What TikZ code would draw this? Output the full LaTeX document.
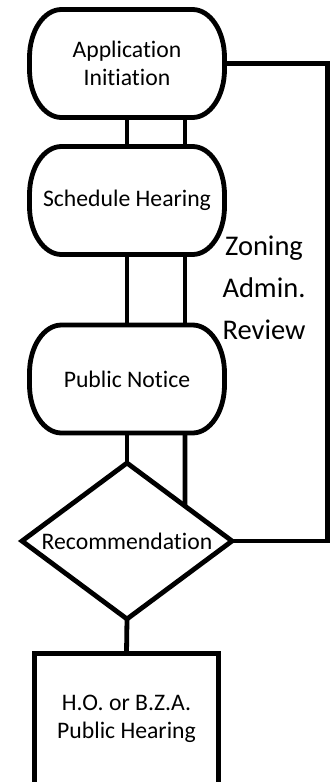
\documentclass[tikz,border=0pt]{standalone}
\usepackage{fontspec}
\setmainfont{Carlito}[Ligatures=NoCommon]
\usetikzlibrary{shapes.geometric,calc}

\begin{document}
\begin{tikzpicture}[x=1pt,y=-1pt,line width=4.8pt,
    flowtext/.style={font=\fontsize{23.7}{28.5}\selectfont,align=center},
    stage/.style={flowtext,minimum width=195pt,minimum height=108pt,inner sep=0pt,outer sep=0pt},
    decision/.style={flowtext,draw,shape=diamond,aspect=1.35,minimum width=210pt,minimum height=156pt,inner sep=0pt,outer sep=0pt},
    hearbox/.style={flowtext,draw,minimum width=184pt,minimum height=131pt,inner sep=0pt,outer sep=0pt}]
        \useasboundingbox (0,0) rectangle (333,782);
        %% stages
        \node[stage] (init) at (127,63.5) {Application\\Initiation};
        \node[stage] (sched) at (127,200.5) {Schedule Hearing};
        \node[stage] (notice) at (127,379) {Public Notice};
        \node[decision] (rec) at (127,541) {Recommendation};
        \node[hearbox] (hear) at (126.5,719) {H.O. or B.Z.A.\\Public Hearing};
        \node[font=\fontsize{28.5}{42}\selectfont,align=center] (zar) at (264,288) {Zoning\\Admin.\\Review};
        %% rounded outlines
        \foreach \n in {init,sched,notice} {
            \draw ([xshift=32pt]\n.north west) -- ([xshift=-32pt]\n.north east)
                arc[start angle=90,end angle=0,x radius=32pt,y radius=48pt] -- ([yshift=48pt]\n.south east)
                arc[start angle=0,end angle=-90,x radius=32pt,y radius=48pt] -- ([xshift=32pt]\n.south west)
                arc[start angle=-90,end angle=-180,x radius=32pt,y radius=48pt] -- ([yshift=-48pt]\n.north west)
                arc[start angle=180,end angle=90,x radius=32pt,y radius=48pt] -- cycle;
        }
        %% links
        \foreach \a/\b in {init/sched,sched/notice} {
            \foreach \dx in {0pt,58pt}
                \draw ([xshift=\dx]\a.south) -- ([xshift=\dx]\b.north);
        }
        \draw (notice.south) -- (rec.north);
        \draw ([xshift=58pt]notice.south) -- ($(rec.north)!0.552!(rec.east)$);
        \draw (rec.south) -- (hear.north);
        %% review loop
        \coordinate (back) at (327.5,63.5);
        \draw (init.east) -- (back) |- (rec.east);
    \end{tikzpicture}
\end{document}
